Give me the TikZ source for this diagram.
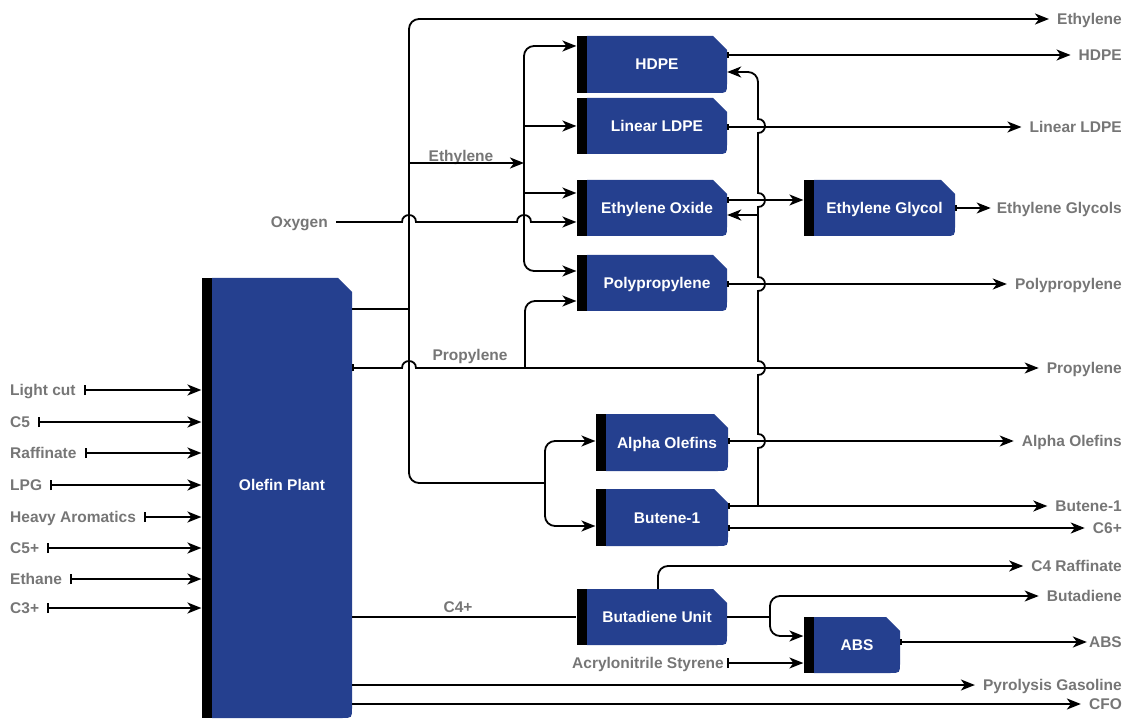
\documentclass[tikz,border=0pt]{standalone}
\usepackage{fontspec}
\setmainfont{Liberation Sans}
\usetikzlibrary{arrows.meta,calc}
\definecolor{unitblue}{RGB}{37,64,143}
\definecolor{txtgray}{RGB}{118,118,118}
\newcommand{\dgfont}{\fontsize{15.5}{18}\selectfont\bfseries}
\begin{document}
\begin{tikzpicture}[x=1pt,y=-1pt,
  unit/.style={inner sep=0pt, text=white, font=\dgfont, text height=11pt, text depth=0pt,
    path picture={
      \fill[unitblue] (path picture bounding box.north west)
        -- ([xshift=-14pt]path picture bounding box.north east)
        -- ([yshift=-14pt]path picture bounding box.north east)
        -- ([yshift=10pt]path picture bounding box.south east)
        .. controls (path picture bounding box.south east) .. ([xshift=-10pt]path picture bounding box.south east)
        -- (path picture bounding box.south west) -- cycle;}},
  inbar/.style={fill=black, inner sep=0pt, minimum width=10pt, anchor=east},
  lbl/.style={text=txtgray, font=\dgfont, inner ysep=0pt, inner xsep=8pt, text height=11pt, text depth=0pt},
  unittxt/.style={text=white, font=\dgfont, inner sep=0pt, text height=11pt, text depth=0pt},
  flow/.style={line width=1.8pt},
  arr/.style={flow, -{Stealth[length=14pt,width=11pt,inset=4pt]}},
  tickarr/.style={flow, {Bar[width=6pt]}-{Stealth[length=14pt,width=11pt,inset=4pt]}},
  inarr/.style={flow, {Bar[width=10pt]}-{Stealth[length=14pt,width=11pt,inset=4pt]}}
]
\useasboundingbox (0,0) rectangle (1133,719);

% ---------- units ----------
\node[unit, minimum width=140pt, minimum height=440pt] (olefin) at (282,498) {};
\node[inbar, minimum height=440pt] (olefin-in) at (olefin.west) {};
\node[unittxt] (olefin-txt) at (282,485) {Olefin Plant};

\node[unit, minimum width=140pt, minimum height=57pt] (hdpe) at (657,64.5) {HDPE};
\node[inbar, minimum height=57pt] (hdpe-in) at (hdpe.west) {};
\node[unit, minimum width=140pt, minimum height=56pt] (lldpe) at (657,126) {Linear LDPE};
\node[inbar, minimum height=56pt] (lldpe-in) at (lldpe.west) {};
\node[unit, minimum width=140pt, minimum height=56pt] (eo) at (657,208) {Ethylene Oxide};
\node[inbar, minimum height=56pt] (eo-in) at (eo.west) {};
\node[unit, minimum width=140pt, minimum height=56pt] (pp) at (657,283) {Polypropylene};
\node[inbar, minimum height=56pt] (pp-in) at (pp.west) {};
\node[unit, minimum width=141pt, minimum height=56pt] (eg) at (884.5,208) {Ethylene Glycol};
\node[inbar, minimum height=56pt] (eg-in) at (eg.west) {};
\node[unit, minimum width=122pt, minimum height=57pt] (alpha) at (667,442.5) {Alpha Olefins};
\node[inbar, minimum height=57pt] (alpha-in) at (alpha.west) {};
\node[unit, minimum width=122pt, minimum height=57pt] (butene) at (667,517.5) {Butene-1};
\node[inbar, minimum height=57pt] (butene-in) at (butene.west) {};
\node[unit, minimum width=140pt, minimum height=56pt] (bu) at (657,617) {Butadiene Unit};
\node[inbar, minimum height=56pt] (bu-in) at (bu.west) {};
\node[unit, minimum width=86pt, minimum height=56pt] (abs) at (857,645) {ABS};
\node[inbar, minimum height=56pt] (abs-in) at (abs.west) {};

% ---------- left input labels ----------
\node[lbl, anchor=west] (l-light) at (2,390) {Light cut};
\node[lbl, anchor=west] (l-c5) at (2,422) {C5};
\node[lbl, anchor=west] (l-raff) at (2,453) {Raffinate};
\node[lbl, anchor=west] (l-lpg) at (2,485) {LPG};
\node[lbl, anchor=west] (l-heavy) at (2,517) {Heavy Aromatics};
\node[lbl, anchor=west] (l-c5p) at (2,548) {C5+};
\node[lbl, anchor=west] (l-ethane) at (2,579) {Ethane};
\node[lbl, anchor=west] (l-c3p) at (2,608) {C3+};
\node[lbl, anchor=east] (l-oxy) at (336,222) {Oxygen};
\node[lbl, anchor=east, inner xsep=3pt] (l-acn) at (727,663) {Acrylonitrile Styrene};

% ---------- inline labels ----------
\node[lbl, inner xsep=0pt] (t-eth) at (461,156) {Ethylene};
\node[lbl, inner xsep=0pt] (t-prop) at (470,355) {Propylene};
\node[lbl, inner xsep=0pt] (t-c4p) at (458,607) {C4+};

% ---------- right output labels ----------
\node[lbl, anchor=east] (o-eth) at (1130,19) {Ethylene};
\node[lbl, anchor=east] (o-hdpe) at (1130,55) {HDPE};
\node[lbl, anchor=east] (o-lldpe) at (1130,127) {Linear LDPE};
\node[lbl, anchor=east, inner xsep=6pt] (o-eg) at (1128,208) {Ethylene Glycols};
\node[lbl, anchor=east] (o-pp) at (1130,284) {Polypropylene};
\node[lbl, anchor=east] (o-prop) at (1130,368) {Propylene};
\node[lbl, anchor=east] (o-alpha) at (1130,441) {Alpha Olefins};
\node[lbl, anchor=east] (o-b1) at (1130,506) {Butene-1};
\node[lbl, anchor=east] (o-c6) at (1130,528) {C6+};
\node[lbl, anchor=east] (o-c4r) at (1130,566) {C4 Raffinate};
\node[lbl, anchor=east] (o-bd) at (1130,596) {Butadiene};
\node[lbl, anchor=east, inner xsep=2pt] (o-abs) at (1124,642) {ABS};
\node[lbl, anchor=east] (o-pyro) at (1130,685) {Pyrolysis Gasoline};
\node[lbl, anchor=east] (o-cfo) at (1130,704) {CFO};

% ---------- junction coordinates ----------
\coordinate (jE) at (409,309);
\coordinate (jEb) at (409,163);
\coordinate (t2) at (524,163);
\coordinate (t2a) at (524,126);
\coordinate (t2b) at (524,193);
\coordinate (jP) at (525,368);
\coordinate (fork) at (545,483);
\coordinate (rv) at (758,506);
\coordinate (rvtop) at (758,100);
\coordinate (rvEO) at (758,215);
\coordinate (bj) at (770,617);

% ---------- inputs to Olefin Plant ----------
\foreach \n in {l-light,l-c5,l-raff,l-lpg,l-heavy,l-c5p,l-ethane,l-c3p}
  \draw[inarr] (\n.east) -- (olefin-in.west |- \n.east);

% ---------- ethylene trunk ----------
\draw[flow] (olefin.east |- jE) -- (jE);
\draw[arr, rounded corners=10pt] (jE) |- (o-eth.west);
\draw[flow, rounded corners=10pt] (jE) |- (fork);
\draw[arr, rounded corners=10pt] (fork) |- (alpha-in.west |- 0,441);
\draw[arr, rounded corners=10pt] (fork) |- (butene-in.west |- 0,526);

% ethylene branch to polymer units
\draw[arr] (jEb) -- (t2);
\draw[arr, rounded corners=10pt] (t2) |- (hdpe-in.west |- 0,46);
\draw[arr, rounded corners=10pt] (t2) |- (pp-in.west |- 0,271);
\draw[arr] (t2a) -- (lldpe-in.west |- t2a);
\draw[arr] (t2b) -- (eo-in.west |- t2b);

% oxygen
\draw[arr] (l-oxy.east) -- (402,222) .. controls (402,212.7) and (416,212.7) .. (416,222)
  -- (517,222) .. controls (517,212.7) and (531,212.7) .. (531,222) -- (eo-in.west |- l-oxy.east);

% propylene
\draw[flow, {Bar[width=7pt]}-{Stealth[length=14pt,width=11pt,inset=4pt]}] (olefin.east |- o-prop.west) -- (402,368)
  .. controls (402,358.7) and (416,358.7) .. (416,368) -- (o-prop.west);
\draw[arr, rounded corners=10pt] (jP) |- (pp-in.west |- 0,301);

% ---------- outputs of units ----------
\draw[tickarr] (hdpe.east |- o-hdpe.west) -- (o-hdpe.west);
\draw[tickarr] (lldpe.east |- o-lldpe.west) -- (o-lldpe.west);
\draw[tickarr] (eo.east |- 0,200) -- (eg-in.west |- 0,200);
\draw[tickarr] (eg.east |- o-eg.west) -- (o-eg.west);
\draw[tickarr] (pp.east |- o-pp.west) -- (o-pp.west);
\draw[tickarr] (alpha.east |- o-alpha.west) -- (o-alpha.west);
\draw[tickarr] (butene.east |- o-b1.west) -- (o-b1.west);
\draw[tickarr] (butene.east |- o-c6.west) -- (o-c6.west);

% butene-1 recycle riser with jumps
\draw[flow] (rv) -- (758,448) .. controls (767.3,448) and (767.3,434) .. (758,434)
  -- (758,375) .. controls (767.3,375) and (767.3,361) .. (758,361)
  -- (758,291) .. controls (767.3,291) and (767.3,277) .. (758,277)
  -- (758,207) .. controls (767.3,207) and (767.3,193) .. (758,193)
  -- (758,133) .. controls (767.3,133) and (767.3,119) .. (758,119)
  -- (rvtop);
\draw[arr, rounded corners=10pt] (rvtop) |- (hdpe.east |- 0,72);
\draw[arr] (rvEO) -- (eo.east |- rvEO);

% ---------- C4 / butadiene ----------
\draw[flow] (olefin.east |- bu) -- (bu-in.west);
\draw[arr, rounded corners=10pt] (bu.north -| 658,0) |- (o-c4r.west);
\draw[flow] (bu.east) -- (bj);
\draw[arr, rounded corners=10pt] (bj) |- (o-bd.west);
\draw[arr, rounded corners=10pt] (bj) |- (abs-in.west |- 0,636);
\draw[inarr] (l-acn.east) -- (abs-in.west |- l-acn.east);
\draw[tickarr] (abs.east |- o-abs.west) -- (o-abs.west);

% ---------- bottom products ----------
\draw[arr] (olefin.east |- o-pyro.west) -- (o-pyro.west);
\draw[arr] (olefin.east |- o-cfo.west) -- (o-cfo.west);
\end{tikzpicture}
\end{document}
